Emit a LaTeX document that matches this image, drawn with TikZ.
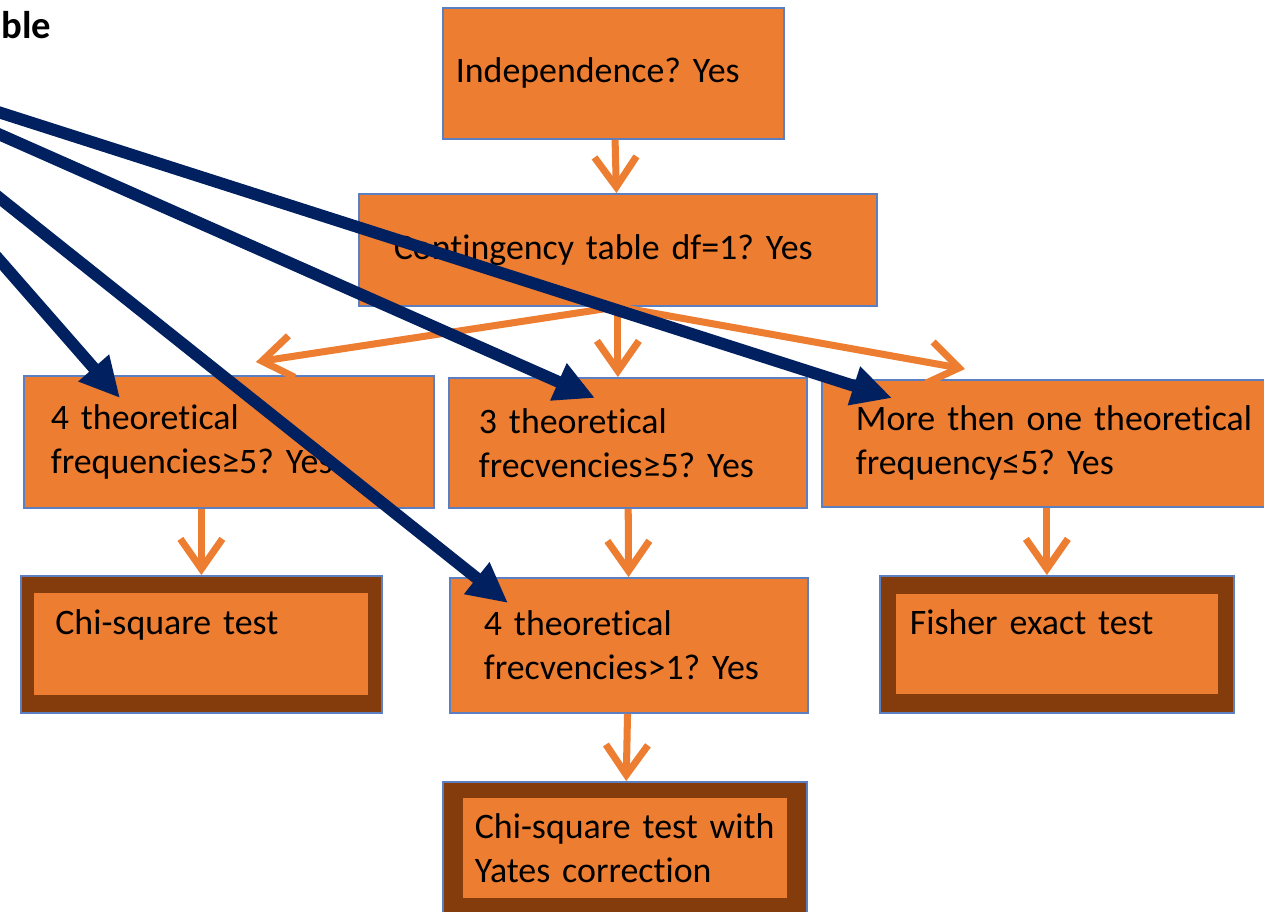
\documentclass[tikz,border=0pt]{standalone}
\usepackage{fontspec}
\setmainfont{Carlito}[Ligatures=NoCommon]
\usetikzlibrary{arrows.meta}
\definecolor{boxorange}{HTML}{ED7D31}
\definecolor{boxbrown}{HTML}{843C0C}
\definecolor{edgeblue}{HTML}{5B7FC0}
\definecolor{navy}{HTML}{002060}
\frenchspacing

\begin{document}
\begin{tikzpicture}[
		box/.style={draw=edgeblue, line width=.5pt, fill=boxorange, anchor=north west, align=left, inner ysep=0pt, font=\fontsize{10.2}{12.5}\selectfont},
		frame/.style={draw=edgeblue, line width=.5pt, fill=boxbrown, anchor=north west, inner sep=0pt},
		inbox/.style={fill=boxorange, align=left, inner ysep=0pt, font=\fontsize{10.2}{12.5}\selectfont},
		flow/.style={draw=boxorange, line width=2pt, -{Straight Barb[length=.3cm, width=.42cm]}},
		pointer/.style={draw=navy, line width=3.4pt, -{Triangle[length=.4cm, width=.38cm]}}
	]
				\path[use as bounding box, clip] (0,0) rectangle (12.64,-9.11);
				\node[font=\fontsize{11}{13}\selectfont\bfseries, anchor=base west, inner sep=0pt] (title) at (.01,-.38) {ble};
				\coordinate (tbl) at (-1.8,-.55);
				\node[box, minimum height=1.31cm, text width=3.15cm, inner xsep=.13cm] (indep) at (4.42,-.07) {Independence? Yes};
				\node[box, minimum height=1.12cm, text width=4.48cm, inner xsep=.35cm] (cont) at (3.58,-1.93) {Contingency table df=1? Yes};
				\node[box, minimum height=1.32cm, text width=3.56cm, inner xsep=.27cm] (freqA) at (.23,-3.75) {4 theoretical\\frequencies≥5? Yes};
				\node[box, minimum height=1.30cm, text width=2.98cm, inner xsep=.30cm] (freqB) at (4.48,-3.77) {3 theoretical\\frecvencies≥5? Yes};
				\node[box, minimum height=1.27cm, text width=4.02cm, inner xsep=.34cm] (freqC) at (8.21,-3.79) {More then one theoretical\\frequency≤5? Yes};
				\node[box, minimum height=1.35cm, text width=2.90cm, inner xsep=.34cm] (freqD) at (4.49,-5.77) {4 theoretical\\frecvencies>1? Yes};
				\node[frame, minimum width=3.61cm, minimum height=1.37cm] (chisq) at (.20,-5.75) {};
				\node[inbox, minimum height=1.02cm, text width=2.92cm, inner xsep=.21cm] (chisqin) at (chisq) {Chi-square test\\~};
				\node[frame, minimum width=3.54cm, minimum height=1.37cm] (fisher) at (8.79,-5.75) {};
				\node[inbox, minimum height=1.00cm, text width=2.94cm, inner xsep=.14cm] (fisherin) at (fisher) {Fisher exact test\\~};
				\node[frame, minimum width=3.64cm, minimum height=1.32cm] (yates) at (4.42,-7.81) {};
				\node[inbox, minimum height=1.00cm, text width=3.00cm, inner xsep=.12cm] (yatesin) at (yates) {Chi-square test with\\Yates correction};
				\draw[flow] (indep) -- (cont);
				\draw[flow] (cont.south) -- ([xshift=.27cm, yshift=.13cm]freqA.north);
				\draw[flow] (cont.south) -- (cont.south |- freqB.north);
				\draw[flow] (cont.south) -- ([xshift=1.44cm, yshift=.10cm]freqC.north west);
				\draw[flow] (freqA.south -| chisq.north) -- (chisq.north);
				\draw[flow] (freqB) -- (freqD);
				\draw[flow] ([xshift=-.1cm]freqC.south -| fisher.north) -- ([xshift=-.1cm]fisher.north);
				\draw[flow] (freqD) -- (yates);
				\foreach \n/\dx/\dy in {freqA/.97/-.23, freqD/.59/-.26, freqB/1.47/-.21, freqC/.71/-.19} {
					\draw[pointer] (tbl) -- ([shift={(\dx,\dy)}]\n.north west);
				}
			\end{tikzpicture}
\end{document}
